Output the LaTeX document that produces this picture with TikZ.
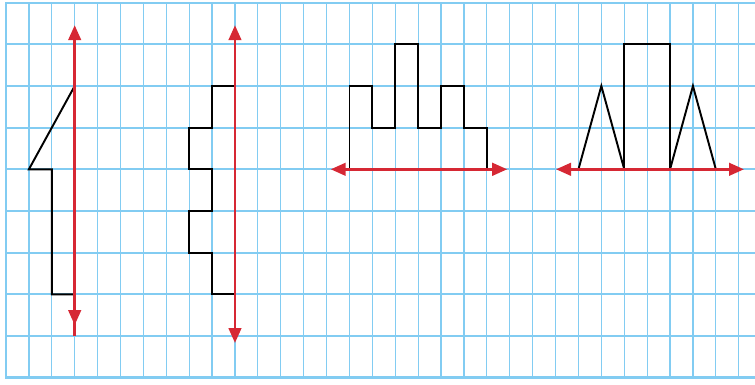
\documentclass[tikz,border=0pt]{standalone}
\usetikzlibrary{arrows.meta}
\definecolor{gridblue}{RGB}{130,204,242}
\definecolor{axisred}{RGB}{214,40,52}

\begin{document}
\begin{tikzpicture}[x=0.458cm, y=0.8333cm,
    vline/.style={gridblue, line width=0.7pt},
    hline/.style={gridblue, line width=1pt},
    figline/.style={black, line width=1.1pt},
    axisline/.style={axisred, line width=1.6pt},
    tip/.style={Triangle[length=0.3cm, width=0.25cm]},
    axis/.style={axisline, {Triangle[length=0.3cm, width=0.25cm]}-{Triangle[length=0.3cm, width=0.25cm]}}]
    \useasboundingbox (-0.262, -0.175) rectangle (32.71, 9.064);

    % Сетка
    \foreach \x in {0,...,32} {
        \draw[vline] (\x, 0) -- (\x, 9);
    }
    \foreach \y in {0,...,9} {
        \draw[hline] (-0.04, \y) -- (32.71, \y);
    }
    \draw[gridblue, line width=1.3pt] (-0.04, 0) -- (32.71, 0); % Нижняя граница
    \draw[gridblue, line width=1.3pt] (-0.04, 9) -- (32.71, 9); % Верхняя граница

    % Фигура 1
    \draw[figline] (3, 7) -- (1, 5) -- (2, 5) -- (2, 2) -- (3, 2);
    \draw[axisline, {Triangle[length=0.3cm, width=0.25cm]}-] (3, 8.46) -- (3, 1);
    \draw[axisline, -{Triangle[length=0.3cm, width=0.25cm]}] (3, 1.8) -- (3, 1.26);

    % Фигура 2
    \draw[figline] (10, 7) -- (9, 7) -- (9, 6) -- (8, 6) -- (8, 5) -- (9, 5)
        -- (9, 4) -- (8, 4) -- (8, 3) -- (9, 3) -- (9, 2) -- (10, 2);
    \draw[axis] (10, 8.46) -- (10, 0.83);

    % Фигура 3
    \draw[figline] (15, 5) -- (15, 7) -- (16, 7) -- (16, 6) -- (17, 6) -- (17, 8)
        -- (18, 8) -- (18, 6) -- (19, 6) -- (19, 7) -- (20, 7) -- (20, 6)
        -- (21, 6) -- (21, 5);
    \draw[axis] (14.18, 5) -- (21.89, 5);

    % Фигура 4
    \draw[figline] (25, 5) -- (26, 7) -- (27, 5); % Треугольник слева
    \draw[figline] (27, 5) -- (27, 8) -- (29, 8) -- (29, 5); % Прямоугольник
    \draw[figline] (29, 5) -- (30, 7) -- (31, 5); % Треугольник справа
    \draw[axis] (24.02, 5) -- (32.23, 5);
\end{tikzpicture}
\end{document}
